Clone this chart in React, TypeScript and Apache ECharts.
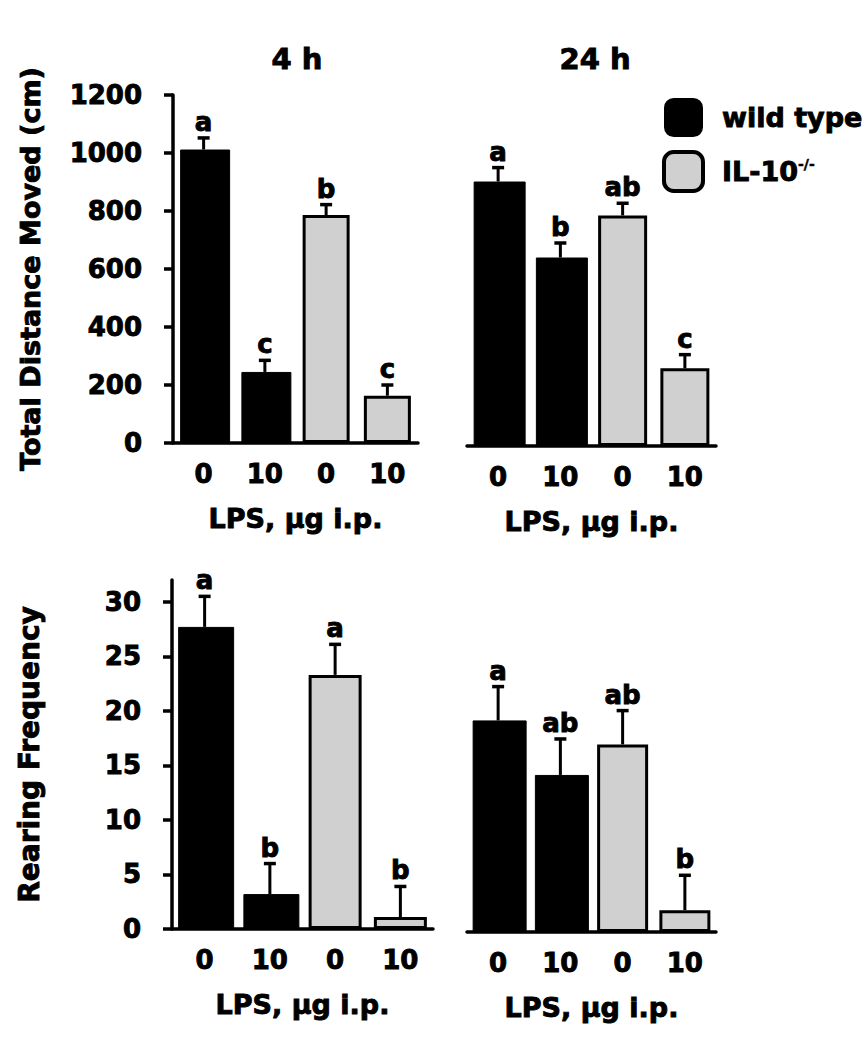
import React, { useEffect, useRef } from "react";
import * as echarts from "echarts";

// ---- data ----
const categories = ["0", "10", "0", "10"];
const genotypeOfBar = ["wt", "wt", "ko", "ko"];

const distance4h = [1012, 245, 786, 163];
const distance4hErr = [40, 40, 36, 37];
const distance4hLetters = ["a", "c", "b", "c"];

const distance24h = [912, 650, 795, 268];
const distance24hErr = [48, 50, 42, 47];
const distance24hLetters = ["a", "b", "ab", "c"];

const rearing4h = [27.7, 3.2, 23.3, 1.1];
const rearing4hErr = [2.8, 2.8, 2.8, 2.8];
const rearing4hLetters = ["a", "b", "a", "b"];

const rearing24h = [19.4, 14.4, 17.2, 2.0];
const rearing24hErr = [3.1, 3.3, 3.1, 3.2];
const rearing24hLetters = ["a", "ab", "ab", "b"];

const rearingTicks = [0, 5, 10, 15, 20, 25, 30];

const panelTitles = ["4 h", "24 h"];
const seriesNames = ["wild type", "IL-10-/-"];
const xAxisName = "LPS, µg i.p.";
const yNameDistance = "Total Distance Moved (cm)";
const yNameRearing = "Rearing Frequency";

// ---- styling ----
const FONT = "DejaVu Sans";
const BLACK = "#000000";
const GRAY = "#d0d0d0";
const AXW = 3.5;
const HEAVY = 0.9;

export default function App() {
  const ref = useRef<HTMLDivElement>(null);

  useEffect(() => {
    document.body.style.margin = "0";
    if (!ref.current) return;
    const chart = echarts.init(ref.current, null, { renderer: "svg" });

    const panels = [
      { vals: distance4h, errs: distance4hErr, letters: distance4hLetters, grid: { left: 173, top: 95, width: 245, height: 348 }, barWidth: 50, yShow: true, yName: yNameDistance, yNameSize: 27, max: 1200, interval: 200, ticks: null },
      { vals: distance24h, errs: distance24hErr, letters: distance24hLetters, grid: { left: 467, top: 98, width: 249, height: 348 }, barWidth: 52, yShow: false, yName: "", yNameSize: 27, max: 1200, interval: 200, ticks: null },
      { vals: rearing4h, errs: rearing4hErr, letters: rearing4hLetters, grid: { left: 172, top: 580, width: 261, height: 349 }, barWidth: 56, yShow: true, yName: yNameRearing, yNameSize: 28, max: 32, interval: 5, ticks: rearingTicks },
      { vals: rearing24h, errs: rearing24hErr, letters: rearing24hLetters, grid: { left: 467, top: 583, width: 249, height: 349 }, barWidth: 54, yShow: false, yName: "", yNameSize: 28, max: 32, interval: 5, ticks: rearingTicks },
    ];

    const textBase = {
      fontFamily: FONT,
      fontWeight: "bold" as const,
      color: BLACK,
      textBorderColor: BLACK,
      textBorderWidth: HEAVY,
    };

    const grids = panels.map((p) => ({ ...p.grid, containLabel: false }));
    const xAxes = panels.map((p, i) => ({
      type: "category",
      gridIndex: i,
      data: categories,
      axisLine: { show: true, lineStyle: { color: BLACK, width: AXW } },
      axisTick: { show: false },
      axisLabel: { ...textBase, fontSize: 26, margin: 18 },
      name: xAxisName,
      nameLocation: "middle",
      nameGap: 62,
      nameTextStyle: { ...textBase, fontSize: 27 },
      splitLine: { show: false },
    }));
    const yAxes = panels.map((p, i) => {
      const ax: any = {
        type: "value",
        gridIndex: i,
        min: 0,
        max: p.max,
        interval: p.interval,
        show: p.yShow,
        axisLine: { show: true, lineStyle: { color: BLACK, width: AXW } },
        axisTick: { show: true, length: 9, lineStyle: { color: BLACK, width: AXW } },
        axisLabel: { ...textBase, fontSize: 26, margin: 31, formatter: (v: number) => String(v) },
        splitLine: { show: false },
        name: p.yName,
        nameLocation: "middle",
        nameGap: 129,
        nameTextStyle: { ...textBase, fontSize: p.yNameSize },
      };
      if (p.ticks) {
        ax.axisLabel.customValues = p.ticks;
        ax.axisTick.customValues = p.ticks;
      }
      return ax;
    });

    const series: any[] = [];
    panels.forEach((p, i) => {
      series.push({
        type: "bar",
        name: seriesNames[0],
        xAxisIndex: i,
        yAxisIndex: i,
        barWidth: p.barWidth,
        barGap: "-100%",
        data: p.vals.map((v, k) => (genotypeOfBar[k] === "wt" ? v : "-")),
        itemStyle: { color: BLACK, borderColor: BLACK, borderWidth: 1 },
      });
      series.push({
        type: "bar",
        name: seriesNames[1],
        xAxisIndex: i,
        yAxisIndex: i,
        barWidth: p.barWidth - 3,
        barGap: "-100%",
        data: p.vals.map((v, k) => (genotypeOfBar[k] === "ko" ? v : "-")),
        itemStyle: { color: GRAY, borderColor: BLACK, borderWidth: 3 },
      });
      const letters = p.letters;
      series.push({
        type: "custom",
        xAxisIndex: i,
        yAxisIndex: i,
        z: 5,
        silent: true,
        data: p.vals.map((v, k) => [k, v, p.errs[k]]),
        renderItem: (params: any, api: any) => {
          const x = api.value(0);
          const v = api.value(1);
          const e = api.value(2);
          const p0 = api.coord([x, v]);
          const p1 = api.coord([x, v + e]);
          const cap = 6;
          return {
            type: "group",
            children: [
              { type: "line", shape: { x1: p0[0], y1: p0[1], x2: p1[0], y2: p1[1] }, style: { stroke: BLACK, lineWidth: 3 } },
              { type: "line", shape: { x1: p1[0] - cap, y1: p1[1], x2: p1[0] + cap, y2: p1[1] }, style: { stroke: BLACK, lineWidth: 3.5 } },
              {
                type: "text",
                x: p1[0],
                y: p1[1] - 3,
                style: {
                  text: letters[params.dataIndex],
                  align: "center",
                  verticalAlign: "bottom",
                  font: `bold 26px "${FONT}"`,
                  fill: BLACK,
                  stroke: BLACK,
                  lineWidth: HEAVY,
                },
              },
            ],
          };
        },
      });
    });

    chart.setOption({
      animation: false,
      backgroundColor: "#ffffff",
      title: [
        { text: panelTitles[0], left: 297, top: 44, padding: 0, textAlign: "center", textStyle: { ...textBase, fontSize: 29 } },
        { text: panelTitles[1], left: 595, top: 44, padding: 0, textAlign: "center", textStyle: { ...textBase, fontSize: 29 } },
      ],
      legend: {
        orient: "vertical",
        left: 662,
        top: 98,
        padding: 0,
        itemWidth: 39,
        itemHeight: 39,
        itemGap: 13,
        icon: "roundRect",
        selectedMode: false,
        data: [
          { name: seriesNames[0], itemStyle: { color: BLACK, borderWidth: 0 } },
          { name: seriesNames[1], itemStyle: { color: GRAY, borderColor: BLACK, borderWidth: 4 } },
        ],
        formatter: (name: string) => (name === seriesNames[0] ? `{t|${name}}` : `{t|IL-10}{s|-/-}`),
        textStyle: {
          ...textBase,
          fontSize: 26,
          rich: {
            t: { ...textBase, fontSize: 27, lineHeight: 30, padding: [0, 0, 0, 14] },
            s: { ...textBase, fontSize: 14, lineHeight: 30, verticalAlign: "top", padding: [0, 0, 0, 0], textBorderWidth: 0.5 },
          },
        },
      },
      grid: grids,
      xAxis: xAxes,
      yAxis: yAxes,
      series,
    });

    return () => chart.dispose();
  }, []);

  return <div ref={ref} style={{ width: 865, height: 1050 }} />;
}
